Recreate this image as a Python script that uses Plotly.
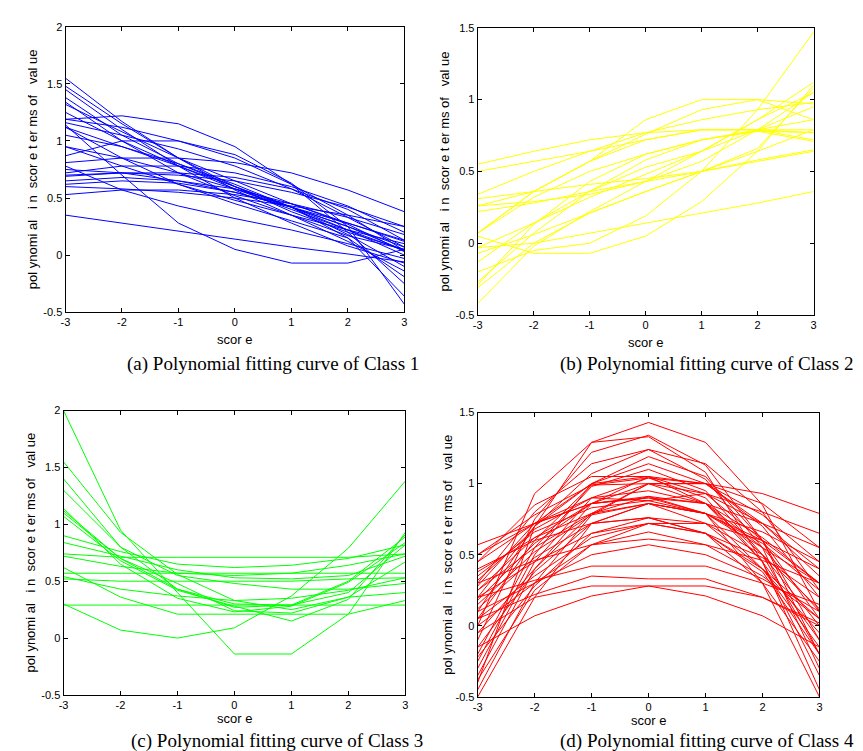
import plotly.graph_objects as go

score = [-3, -2, -1, 0, 1, 2, 3]
score_labels = ["-3", "-2", "-1", "0", "1", "2", "3"]

class1 = [
    [1.55, 1.17, 0.85, 0.57, 0.35, 0.17, 0.05],
    [1.48, 1.15, 0.85, 0.60, 0.38, 0.20, 0.05],
    [1.45, 1.10, 0.78, 0.50, 0.28, 0.08, -0.07],
    [1.38, 1.05, 0.80, 0.60, 0.42, 0.15, -0.36],
    [1.34, 1.00, 0.72, 0.52, 0.35, 0.12, -0.14],
    [1.32, 1.08, 0.85, 0.65, 0.45, 0.28, 0.13],
    [1.19, 1.22, 1.15, 0.95, 0.62, 0.20, -0.25],
    [1.19, 1.12, 1.00, 0.85, 0.62, 0.35, 0.04],
    [1.16, 1.05, 0.93, 0.78, 0.58, 0.33, 0.07],
    [1.14, 0.70, 0.28, 0.05, -0.07, -0.07, 0.05],
    [1.12, 0.95, 0.78, 0.60, 0.42, 0.22, 0.00],
    [1.05, 0.95, 0.80, 0.62, 0.42, 0.18, -0.10],
    [0.95, 0.85, 0.72, 0.58, 0.42, 0.25, 0.07],
    [0.87, 1.00, 1.00, 0.88, 0.63, 0.25, -0.43],
    [0.81, 0.85, 0.85, 0.81, 0.72, 0.57, 0.38],
    [0.72, 0.78, 0.78, 0.72, 0.60, 0.43, 0.20],
    [0.70, 0.72, 0.70, 0.65, 0.55, 0.42, 0.25],
    [0.69, 0.72, 0.72, 0.68, 0.58, 0.40, 0.13],
    [0.65, 0.68, 0.65, 0.58, 0.45, 0.27, 0.03],
    [0.62, 0.65, 0.63, 0.55, 0.42, 0.25, 0.04],
    [0.60, 0.58, 0.55, 0.50, 0.43, 0.35, 0.25],
    [0.53, 0.57, 0.57, 0.53, 0.45, 0.33, 0.18],
    [0.35, 0.28, 0.21, 0.14, 0.07, 0.01, -0.06],
    [0.78, 0.57, 0.43, 0.32, 0.22, 0.10, -0.03],
    [1.12, 0.85, 0.62, 0.45, 0.30, 0.15, -0.19],
    [0.95, 0.78, 0.62, 0.48, 0.35, 0.22, 0.10],
    [0.75, 0.72, 0.65, 0.55, 0.42, 0.28, 0.12],
    [1.25, 1.00, 0.78, 0.58, 0.40, 0.22, 0.04],
]

class2 = [
    [0.55, 0.64, 0.72, 0.77, 0.79, 0.79, 0.79],
    [0.50, 0.57, 0.64, 0.72, 0.79, 0.79, 0.72],
    [0.34, 0.50, 0.64, 0.77, 0.86, 0.93, 0.98],
    [0.31, 0.36, 0.41, 0.45, 0.50, 0.57, 0.64],
    [0.26, 0.29, 0.34, 0.43, 0.50, 0.58, 0.65],
    [0.22, 0.28, 0.36, 0.43, 0.57, 0.79, 1.05],
    [0.07, 0.36, 0.57, 0.72, 0.79, 0.79, 0.77],
    [0.05, -0.07, -0.07, 0.05, 0.29, 0.64, 1.10],
    [-0.03, 0.00, 0.07, 0.14, 0.21, 0.28, 0.36],
    [-0.20, -0.05, 0.00, 0.19, 0.50, 0.93, 1.47],
    [-0.42, -0.02, 0.22, 0.43, 0.64, 0.86, 1.05],
    [-0.29, 0.13, 0.43, 0.62, 0.72, 0.79, 0.86],
    [-0.27, 0.07, 0.36, 0.58, 0.72, 0.78, 0.71],
    [-0.13, 0.14, 0.36, 0.53, 0.64, 0.79, 0.95],
    [-0.07, 0.06, 0.21, 0.36, 0.50, 0.64, 0.79],
    [0.07, 0.32, 0.50, 0.62, 0.72, 0.78, 0.77],
    [-0.31, 0.00, 0.21, 0.36, 0.50, 0.66, 1.08],
    [0.26, 0.36, 0.57, 0.86, 1.00, 1.00, 0.86],
    [0.07, 0.36, 0.57, 0.76, 0.93, 1.00, 0.97],
    [-0.03, 0.14, 0.32, 0.48, 0.64, 0.86, 1.12],
]

class3 = [
    [2.00, 0.95, 0.40, -0.14, -0.14, 0.21, 0.93],
    [1.55, 0.93, 0.56, 0.33, 0.25, 0.36, 0.67],
    [1.40, 0.80, 0.43, 0.27, 0.29, 0.50, 0.89],
    [1.30, 0.80, 0.55, 0.48, 0.43, 0.43, 0.48],
    [1.14, 0.65, 0.35, 0.23, 0.28, 0.49, 0.84],
    [1.12, 0.70, 0.48, 0.24, 0.22, 0.36, 0.40],
    [1.10, 0.70, 0.43, 0.30, 0.29, 0.40, 0.82],
    [1.07, 0.68, 0.42, 0.28, 0.15, 0.34, 0.91],
    [0.90, 0.76, 0.65, 0.62, 0.64, 0.70, 0.82],
    [0.84, 0.72, 0.60, 0.53, 0.52, 0.55, 0.72],
    [0.74, 0.71, 0.71, 0.71, 0.71, 0.71, 0.74],
    [0.72, 0.63, 0.57, 0.55, 0.57, 0.64, 0.74],
    [0.62, 0.36, 0.21, 0.21, 0.21, 0.21, 0.33],
    [0.57, 0.57, 0.57, 0.57, 0.57, 0.57, 0.57],
    [0.54, 0.43, 0.37, 0.33, 0.35, 0.42, 0.53],
    [0.52, 0.50, 0.50, 0.50, 0.50, 0.52, 0.53],
    [0.29, 0.29, 0.29, 0.29, 0.29, 0.29, 0.29],
    [0.30, 0.07, 0.00, 0.09, 0.37, 0.79, 1.38],
]

class4 = [
    [-0.40, 0.70, 1.29, 1.43, 1.29, 0.85, 0.10],
    [-0.10, 0.75, 1.22, 1.34, 1.13, 0.60, -0.20],
    [0.00, 0.93, 1.29, 1.33, 1.08, 0.45, -0.45],
    [0.10, 0.70, 1.07, 1.24, 1.14, 0.80, 0.25],
    [-0.25, 0.50, 1.00, 1.19, 1.05, 0.60, -0.10],
    [0.30, 0.80, 1.14, 1.24, 1.03, 0.55, -0.30],
    [0.20, 0.70, 1.00, 1.14, 1.00, 0.78, 0.45],
    [-0.20, 0.55, 0.98, 1.10, 0.95, 0.50, -0.20],
    [0.45, 0.85, 1.05, 1.05, 0.93, 0.72, 0.40],
    [0.50, 0.78, 0.99, 1.04, 1.00, 0.86, 0.55],
    [0.57, 0.72, 0.86, 1.00, 1.00, 0.93, 0.79],
    [0.05, 0.60, 0.99, 1.00, 0.86, 0.50, 0.00],
    [-0.35, 0.40, 0.86, 0.91, 0.86, 0.55, 0.10],
    [0.25, 0.62, 0.86, 0.90, 0.86, 0.62, 0.30],
    [0.35, 0.66, 0.83, 0.88, 0.93, 0.80, 0.65],
    [0.15, 0.52, 0.78, 0.86, 0.79, 0.60, 0.30],
    [-0.15, 0.38, 0.72, 0.86, 0.72, 0.40, -0.05],
    [0.40, 0.60, 0.72, 0.76, 0.72, 0.60, 0.40],
    [0.20, 0.45, 0.65, 0.72, 0.65, 0.48, 0.20],
    [0.00, 0.30, 0.57, 0.66, 0.57, 0.35, 0.05],
    [0.30, 0.46, 0.57, 0.61, 0.57, 0.46, 0.30],
    [0.10, 0.30, 0.50, 0.57, 0.50, 0.33, 0.10],
    [0.20, 0.32, 0.42, 0.42, 0.42, 0.30, 0.15],
    [0.05, 0.22, 0.35, 0.33, 0.33, 0.20, 0.02],
    [-0.05, 0.20, 0.28, 0.28, 0.28, 0.20, 0.00],
    [-0.15, 0.07, 0.21, 0.28, 0.21, 0.07, -0.15],
    [-0.45, 0.30, 0.78, 1.00, 0.93, 0.60, 0.05],
    [0.28, 0.72, 1.00, 1.05, 0.86, 0.45, -0.10],
    [-0.30, 0.45, 0.90, 1.04, 0.90, 0.45, -0.35],
    [0.50, 0.72, 0.86, 0.90, 0.79, 0.58, 0.25],
    [0.12, 0.48, 0.72, 0.76, 0.65, 0.40, 0.05],
    [-0.05, 0.40, 0.79, 0.91, 0.79, 0.40, -0.15],
    [0.38, 0.62, 0.79, 0.86, 0.79, 0.66, 0.45],
    [0.25, 0.55, 0.79, 1.00, 1.00, 0.70, 0.20],
    [-0.22, 0.28, 0.65, 0.76, 0.65, 0.30, -0.25],
    [0.45, 0.72, 0.90, 0.95, 0.86, 0.72, 0.55],
    [0.18, 0.58, 0.86, 1.05, 1.00, 0.72, 0.35],
    [-0.38, 0.25, 0.57, 0.72, 0.65, 0.38, -0.20],
    [0.05, 0.35, 0.62, 0.72, 0.72, 0.50, 0.12],
    [0.32, 0.68, 0.90, 0.88, 0.79, 0.55, 0.30],
    [-0.50, 0.20, 0.72, 0.86, 0.79, 0.30, -0.50],
]

captions = [
    "(a) Polynomial fitting curve of Class 1",
    "(b) Polynomial fitting curve of Class 2",
    "(c) Polynomial fitting curve of Class 3",
    "(d) Polynomial fitting curve of Class 4",
]
yticks_tall = [-0.5, 0, 0.5, 1, 1.5, 2]
ylabels_tall = ["-0.5", "0", "0.5", "1", "1.5", "2"]
yticks_short = [-0.5, 0, 0.5, 1, 1.5]
ylabels_short = ["-0.5", "0", "0.5", "1", "1.5"]
y_ranges = [[-0.5, 2], [-0.5, 1.5], [-0.5, 2], [-0.5, 1.5]]

W, H = 863, 751

def fx(p):
    return p / W

def fy(p):
    return 1 - p / H

# pixel boxes of each plot area: left, right, top, bottom
boxes = [(53, 395, 13, 303), (469, 808, 14, 306), (51, 396, 403, 692), (469, 814, 405, 694)]
ytitle_x = [20, 435, 18, 439]
xtitle_gap = [28, 28, 24, 24]
caption_pos = [(262, 356), (700, 356), (266, 739), (700, 739)]
colors = ["#0000ff", "#ffff00", "#00ff00", "#ff0000"]

fig = go.Figure()
annotations = []
tick_font = dict(family="Liberation Sans, Arial", size=11, color="black")
label_font = dict(family="Liberation Sans, Arial", size=13, color="black")

for i, (data, color) in enumerate(zip([class1, class2, class3, class4], colors)):
    n = "" if i == 0 else str(i + 1)
    for curve in data:
        fig.add_trace(go.Scatter(
            x=score, y=curve, mode="lines",
            line=dict(color=color, width=1),
            xaxis="x" + n, yaxis="y" + n,
            showlegend=False, hoverinfo="skip",
        ))
    l, r, t, b = boxes[i]
    axis_common = dict(
        showline=True, linecolor="black", linewidth=1, mirror="ticks",
        ticks="inside", ticklen=4, tickcolor="black",
        showgrid=False, zeroline=False, tickfont=tick_font,
    )
    tall = y_ranges[i][1] == 2
    fig.layout["xaxis" + n] = dict(
        domain=[fx(l), fx(r)], range=[-3, 3],
        tickvals=score, ticktext=score_labels,
        anchor="y" + n, **axis_common,
    )
    fig.layout["yaxis" + n] = dict(
        domain=[fy(b), fy(t)], range=y_ranges[i],
        tickvals=yticks_tall if tall else yticks_short,
        ticktext=ylabels_tall if tall else ylabels_short,
        anchor="x" + n, **axis_common,
    )
    annotations.append(dict(
        text="scor e", x=fx((l + r) / 2), y=fy(b + xtitle_gap[i]),
        xanchor="center", yanchor="middle",
        xref="paper", yref="paper", showarrow=False, font=label_font,
    ))
    annotations.append(dict(
        text="pol ynomi al &nbsp; i n &nbsp;scor e t er ms of &nbsp; val ue",
        x=fx(ytitle_x[i]), y=fy((t + b) / 2), textangle=-90,
        xanchor="center", yanchor="middle",
        xref="paper", yref="paper", showarrow=False, font=label_font,
    ))
    cx, cy = caption_pos[i]
    annotations.append(dict(
        text=captions[i], x=fx(cx), y=fy(cy),
        xanchor="center", yanchor="middle",
        xref="paper", yref="paper", showarrow=False,
        font=dict(family="Liberation Serif, Times New Roman", size=19, color="black"),
    ))

fig.update_layout(
    width=W, height=H, autosize=False,
    margin=dict(l=0, r=0, t=0, b=0),
    paper_bgcolor="white", plot_bgcolor="white",
    annotations=annotations,
)

fig.write_html("out.html")
